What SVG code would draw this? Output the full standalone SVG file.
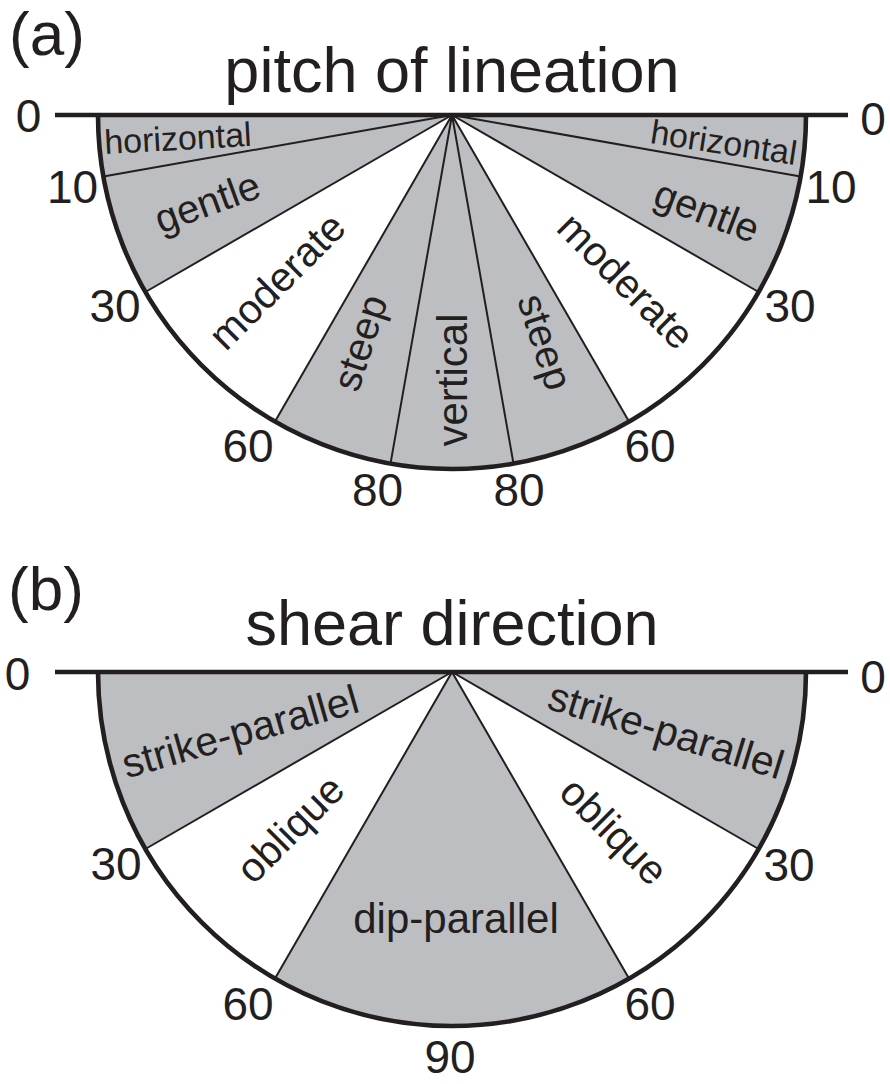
<svg xmlns="http://www.w3.org/2000/svg" width="890" height="1084" viewBox="0 0 890 1084">
<style>
text { font-family: "Liberation Sans", Arial, Helvetica, sans-serif; fill: #231f20; }
.panel { font-size: 62px; }
.title { font-size: 63px; text-anchor: middle; }
.num { font-size: 46px; text-anchor: middle; }
.lab { font-size: 41px; text-anchor: middle; }
.gray { fill: #bcbec1; stroke: none; }
.white { fill: #ffffff; stroke: none; }
.ray { stroke: #231f20; stroke-width: 2; fill: none; stroke-linecap: round; }
.rim { stroke: #231f20; stroke-width: 4.6; fill: none; }
</style>

<g id="panel-a">
  <text class="panel" x="9" y="55">(a)</text>
  <text class="title" x="452" y="92">pitch of lineation</text>
  <g id="a-sectors">
    <path class="gray" d="M 98 115 A 354 354 0 0 0 806 115 Z"/>
    <path class="white" d="M 452 115 L 145.4 292 A 354 354 0 0 0 275 421.6 Z"/>
    <path class="white" d="M 452 115 L 629 421.6 A 354 354 0 0 0 758.6 292 Z"/>
  </g>
  <g id="a-boundaries">
    <line class="ray" x1="452" y1="115" x2="103.4" y2="176.5"/>
    <line class="ray" x1="452" y1="115" x2="145.4" y2="292"/>
    <line class="ray" x1="452" y1="115" x2="275" y2="421.6"/>
    <line class="ray" x1="452" y1="115" x2="390.5" y2="463.6"/>
    <line class="ray" x1="452" y1="115" x2="800.6" y2="176.5"/>
    <line class="ray" x1="452" y1="115" x2="758.6" y2="292"/>
    <line class="ray" x1="452" y1="115" x2="629" y2="421.6"/>
    <line class="ray" x1="452" y1="115" x2="513.5" y2="463.6"/>
    <path class="rim" d="M 98 115 A 354 354 0 0 0 806 115"/>
    <line class="rim" x1="55" y1="115" x2="848" y2="115"/>
  </g>
  <g id="a-labels">
    <text class="lab" style="font-size:34px" transform="translate(178.5,150) rotate(-3.2)">horizontal</text>
    <text class="lab" style="font-size:34px" transform="translate(722,154) rotate(8.6)">horizontal</text>
    <text class="lab" style="font-size:40px" transform="translate(212,215) rotate(-20)">gentle</text>
    <text class="lab" style="font-size:40px" transform="translate(702,224) rotate(21)">gentle</text>
    <text class="lab" transform="translate(287,291) rotate(-45)">moderate</text>
    <text class="lab" transform="translate(616,291) rotate(45)">moderate</text>
    <text class="lab" style="font-size:40px" transform="translate(373,347) rotate(-72)">steep</text>
    <text class="lab" style="font-size:42px" transform="translate(467,380) rotate(-90)">vertical</text>
    <text class="lab" style="font-size:40px" transform="translate(532,346) rotate(72)">steep</text>
  </g>
  <g id="a-ticks">
    <text class="num" x="28.5" y="132">0</text>
    <text class="num" x="873" y="135">0</text>
    <text class="num" x="72.5" y="203">10</text>
    <text class="num" x="831" y="203">10</text>
    <text class="num" x="115" y="322">30</text>
    <text class="num" x="790" y="322">30</text>
    <text class="num" x="248" y="462">60</text>
    <text class="num" x="650" y="462">60</text>
    <text class="num" x="377.5" y="506">80</text>
    <text class="num" x="519" y="506">80</text>
  </g>
</g>

<g id="panel-b">
  <text class="panel" x="8" y="610">(b)</text>
  <text class="title" x="452" y="645">shear direction</text>
  <g id="b-sectors">
    <path class="gray" d="M 98 672 A 354 354 0 0 0 806 672 Z"/>
    <path class="white" d="M 452 672 L 145.4 849 A 354 354 0 0 0 275 978.6 Z"/>
    <path class="white" d="M 452 672 L 629 978.6 A 354 354 0 0 0 758.6 849 Z"/>
  </g>
  <g id="b-boundaries">
    <line class="ray" x1="452" y1="672" x2="145.4" y2="849"/>
    <line class="ray" x1="452" y1="672" x2="275" y2="978.6"/>
    <line class="ray" x1="452" y1="672" x2="758.6" y2="849"/>
    <line class="ray" x1="452" y1="672" x2="629" y2="978.6"/>
    <path class="rim" d="M 98 672 A 354 354 0 0 0 806 672"/>
    <line class="rim" x1="55" y1="672" x2="848" y2="672"/>
  </g>
  <g id="b-labels">
    <text class="lab" transform="translate(244,745) rotate(-16)">strike-parallel</text>
    <text class="lab" transform="translate(662,744) rotate(17)">strike-parallel</text>
    <text class="lab" transform="translate(300,839) rotate(-45)">oblique</text>
    <text class="lab" transform="translate(604,841) rotate(45)">oblique</text>
    <text class="lab" style="font-size:42px" x="456" y="933">dip-parallel</text>
  </g>
  <g id="b-ticks">
    <text class="num" x="17.5" y="690">0</text>
    <text class="num" x="873" y="693">0</text>
    <text class="num" x="116" y="880">30</text>
    <text class="num" x="789" y="881">30</text>
    <text class="num" x="248" y="1020">60</text>
    <text class="num" x="650" y="1020">60</text>
    <text class="num" x="450" y="1073">90</text>
  </g>
</g>
</svg>
